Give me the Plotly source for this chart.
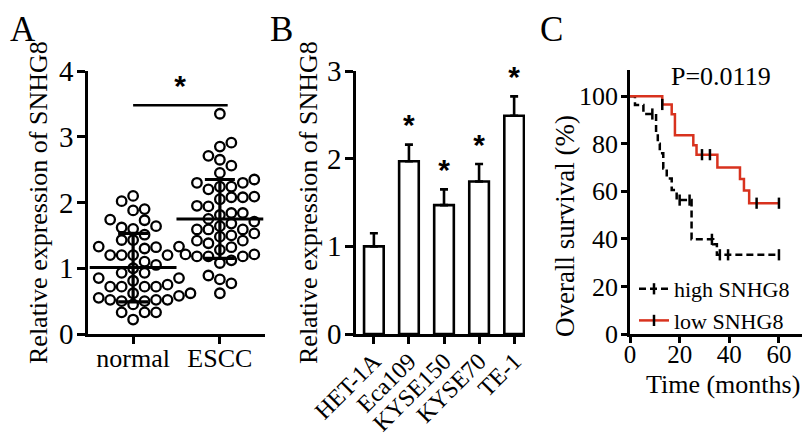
import numpy as np
import plotly.graph_objects as go

# ---------------- data ----------------
# Panel A: relative expression (scatter dot plot)
groups_a = ["normal", "ESCC"]
normal_vals = [2.10, 2.02, 1.90, 1.88, 1.74, 1.73, 1.64, 1.62, 1.60, 1.51, 1.43, 1.43,
               1.33, 1.33, 1.32, 1.30, 1.20, 1.20, 1.20, 1.20, 1.10, 1.05, 1.00, 0.93,
               0.93, 0.85, 0.85, 0.81, 0.75, 0.72, 0.72, 0.72, 0.72, 0.65, 0.62, 0.62,
               0.60, 0.58, 0.55, 0.52, 0.52, 0.52, 0.50, 0.50, 0.45, 0.33, 0.33, 0.33, 0.22]
escc_vals = [3.35, 2.91, 2.85, 2.71, 2.65, 2.56, 2.45, 2.35, 2.30, 2.30, 2.24, 2.24,
             2.20, 2.09, 2.08, 2.08, 2.05, 1.95, 1.94, 1.84, 1.84, 1.81, 1.75, 1.71,
             1.68, 1.64, 1.59, 1.59, 1.59, 1.53, 1.50, 1.48, 1.42, 1.42, 1.38, 1.32,
             1.28, 1.21, 1.21, 1.18, 1.18, 1.18, 1.12, 1.08, 0.89, 0.83, 0.77, 0.62]
a_means = [1.01, 1.75]
a_sds = [0.52, 0.60]
a_sig_level = 3.48

# Panel B: cell lines
cell_lines = ["HET-1A", "Eca109", "KYSE150", "KYSE70", "TE-1"]
cell_vals = [1.00, 1.97, 1.47, 1.74, 2.49]
cell_errs = [0.15, 0.19, 0.18, 0.20, 0.22]
cell_sig = [False, True, True, True, True]

# Panel C: Kaplan-Meier
high_t = [0, 2, 5.4, 10.5, 11.2, 12, 13.4, 14.8, 16.8, 18.8, 24.8, 33.5, 35, 60]
high_s = [100, 96.3, 92.5, 84.3, 80, 76, 69.6, 65.4, 60.5, 56.3, 39.8, 37.7, 33.3, 33.3]
high_censor = [9, 20, 24, 33, 36.2, 39.5, 60]
low_t = [0, 13, 16.8, 18.1, 25.5, 26.8, 35.2, 44.3, 45.9, 48, 60]
low_s = [100, 96.5, 92.4, 83.6, 79.4, 75.4, 70, 65.2, 60.3, 55, 55]
low_censor = [13, 29, 32.2, 51, 60]
p_text = "P=0.0119"

# ---------------- geometry helpers ----------------
# the page body has an 8px margin, so the figure starts at (8, 8) in the window
OX, OY = 8, 8
W, H = 802, 431
FONT = "Liberation Serif"
RED = "#D8321E"


def px(x):
    return (x - OX) / W


def py(y):
    return 1 - (y - OY) / H


def beeswarm(values, px_per_unit, px_per_cat, step=11.5, mind=10.0):
    order = np.argsort(values)
    placed = []
    offs = np.zeros(len(values))
    for i in order:
        yv = values[i] * px_per_unit
        for k in [0, 1, -1, 2, -2, 3, -3, 4, -4, 5, -5]:
            xv = k * step
            if all((xv - a) ** 2 + (yv - b) ** 2 >= mind ** 2 for a, b in placed):
                break
        placed.append((xv, yv))
        offs[i] = xv / px_per_cat
    return offs


def step_value(ts, ss, t):
    v = ss[0]
    for tt, s in zip(ts, ss):
        if tt <= t:
            v = s
    return v


fig = go.Figure()

# ---------------- Panel A ----------------
ydomA = [py(334), py(71)]
for gi, vals in enumerate([normal_vals, escc_vals]):
    offs = beeswarm(np.array(vals), 65.75, 87.0)
    fig.add_trace(go.Scatter(
        x=gi + offs, y=vals, mode="markers", xaxis="x", yaxis="y", showlegend=False,
        marker=dict(symbol="circle-open", size=9.5, color="black", line=dict(width=2.3)),
    ))
fig.add_trace(go.Scatter(
    x=[0, 1], y=a_means, mode="markers", xaxis="x", yaxis="y", showlegend=False,
    marker=dict(symbol="line-ew", size=62, color="black", line=dict(width=3, color="black")),
    error_y=dict(type="data", array=a_sds, visible=True, thickness=3.2, width=15, color="black"),
))
fig.add_trace(go.Scatter(
    x=[0, 1.09], y=[a_sig_level, a_sig_level], mode="lines", xaxis="x", yaxis="y",
    showlegend=False, line=dict(color="black", width=2.5),
))
fig.add_trace(go.Scatter(
    x=[0.54], y=[a_sig_level + 0.02], mode="text", text=["<b>*</b>"], textposition="top center",
    xaxis="x", yaxis="y", showlegend=False, cliponaxis=False,
    textfont=dict(family="Liberation Sans", size=30, color="black"),
))

# ---------------- Panel B ----------------
fig.add_trace(go.Bar(
    x=list(range(len(cell_lines))), y=cell_vals, xaxis="x2", yaxis="y2", width=0.56,
    showlegend=False, cliponaxis=False,
    marker=dict(color="white", line=dict(color="black", width=2.6)),
    error_y=dict(type="data", symmetric=False, array=cell_errs,
                 arrayminus=[0] * len(cell_errs), thickness=2.6, width=4, color="black"),
))
sx = [i for i, s in enumerate(cell_sig) if s]
sy = [cell_vals[i] + cell_errs[i] + 0.02 for i in sx]
fig.add_trace(go.Scatter(
    x=sx, y=sy, mode="text", text=["<b>*</b>"] * len(sx), textposition="top center",
    xaxis="x2", yaxis="y2", showlegend=False, cliponaxis=False,
    textfont=dict(family="Liberation Sans", size=30, color="black"),
))

# ---------------- Panel C ----------------
high_line = dict(color="black", width=2.5, dash="7px,4px")
low_line = dict(color=RED, width=2.5)
tick_marker = dict(symbol="line-ns", size=8, line=dict(color="black", width=2.5))
fig.add_trace(go.Scatter(
    x=high_t, y=high_s, mode="lines", line_shape="hv", xaxis="x3", yaxis="y3",
    showlegend=False, line=high_line,
))
fig.add_trace(go.Scatter(
    x=low_t, y=low_s, mode="lines", line_shape="hv", xaxis="x3", yaxis="y3",
    showlegend=False, line=low_line,
))
fig.add_trace(go.Scatter(
    x=high_censor, y=[step_value(high_t, high_s, t) for t in high_censor], mode="markers",
    xaxis="x3", yaxis="y3", showlegend=False, cliponaxis=False, marker=tick_marker,
))
fig.add_trace(go.Scatter(
    x=low_censor, y=[step_value(low_t, low_s, t) for t in low_censor], mode="markers",
    xaxis="x3", yaxis="y3", showlegend=False, cliponaxis=False, marker=tick_marker,
))
# legend entries (line with a censor tick)
for name, ln in [("high SNHG8", high_line), ("low SNHG8", low_line)]:
    fig.add_trace(go.Scatter(
        x=[None], y=[None], mode="lines+markers", name=name, xaxis="x3", yaxis="y3",
        line=ln, marker=tick_marker,
    ))

axis_common = dict(showline=True, linecolor="black", linewidth=2.5, ticks="outside",
                   tickcolor="black", tickwidth=2.5, showgrid=False, zeroline=False,
                   fixedrange=True, automargin=False)

fig.update_layout(
    width=W, height=H, margin=dict(l=0, r=0, t=0, b=0),
    paper_bgcolor="white", plot_bgcolor="white",
    font=dict(family=FONT, color="black"),
    xaxis=dict(domain=[px(88), px(265)], range=[-0.52, 1.52], anchor="y",
               tickvals=[0, 1], ticktext=groups_a, ticklen=7, ticklabelstandoff=-8,
               tickfont=dict(size=26), **axis_common),
    yaxis=dict(domain=ydomA, range=[0, 4], anchor="x", tickvals=[0, 1, 2, 3, 4],
               ticklen=8, ticklabelstandoff=-2, tickfont=dict(size=29), **axis_common),
    xaxis2=dict(domain=[px(356), px(525)], range=[-0.51, 4.31], anchor="y2",
                tickvals=list(range(len(cell_lines))), ticktext=cell_lines, tickangle=-45,
                ticklen=7, ticklabelstandoff=-6, tickfont=dict(size=24), **axis_common),
    yaxis2=dict(domain=ydomA, range=[0, 3], anchor="x2", tickvals=[0, 1, 2, 3],
                ticklen=8, ticklabelstandoff=-2, tickfont=dict(size=29), **axis_common),
    xaxis3=dict(domain=[px(630), px(808)], range=[0, 71.7], anchor="y3",
                tickvals=[0, 20, 40, 60], ticklen=6, ticklabelstandoff=-10,
                tickfont=dict(size=25), **axis_common),
    yaxis3=dict(domain=[py(334), py(70)], range=[0, 111], anchor="x3",
                tickvals=[0, 20, 40, 60, 80, 100], ticklen=6, ticklabelstandoff=-2,
                tickfont=dict(size=26), **axis_common),
    legend=dict(x=px(634), y=py(268), xanchor="left", yanchor="top",
                bgcolor="rgba(0,0,0,0)", font=dict(size=22), itemwidth=30,
                tracegroupgap=0),
    bargap=0.4,
)

annos = [
    dict(text="A", x=px(8), y=py(8), xanchor="left", yanchor="top", font=dict(size=35)),
    dict(text="B", x=px(268), y=py(8), xanchor="left", yanchor="top", font=dict(size=35)),
    dict(text="C", x=px(538), y=py(8), xanchor="left", yanchor="top", font=dict(size=35)),
    dict(text="Relative expression of SNHG8", x=px(38), y=py(203), textangle=-90,
         xanchor="center", yanchor="middle", font=dict(size=26)),
    dict(text="Relative expression of SNHG8", x=px(308), y=py(203), textangle=-90,
         xanchor="center", yanchor="middle", font=dict(size=26)),
    dict(text="Overall survival (%)", x=px(565), y=py(226), textangle=-90,
         xanchor="center", yanchor="middle", font=dict(size=27)),
    dict(text="Time (months)", x=px(723), y=py(384), xanchor="center", yanchor="middle",
         font=dict(size=26)),
    dict(text=p_text, x=px(721), y=py(76), xanchor="center", yanchor="middle",
         font=dict(size=26)),
]
for a in annos:
    a.update(xref="paper", yref="paper", showarrow=False)
fig.update_layout(annotations=annos)

fig.write_html("out.html")
